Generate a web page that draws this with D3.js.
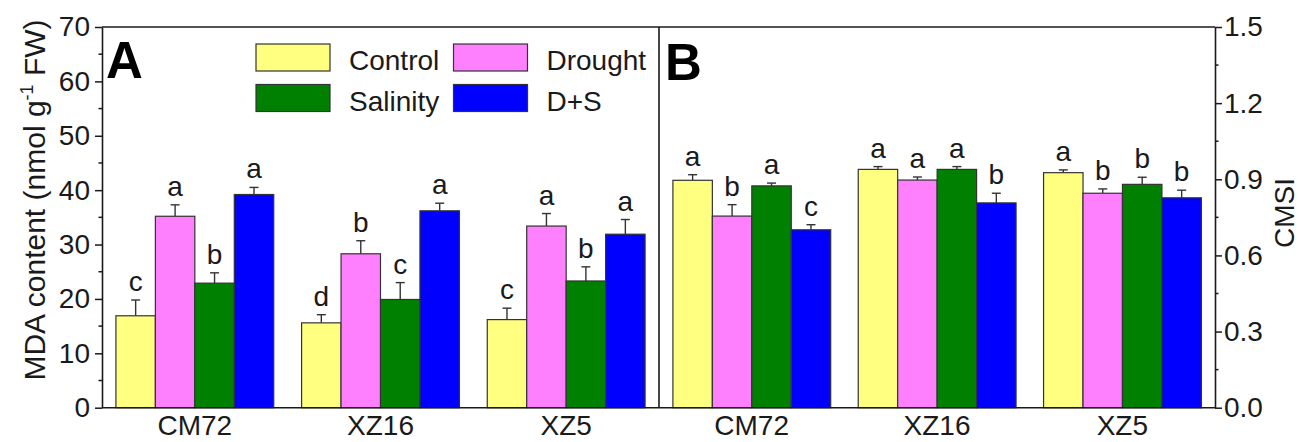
<!DOCTYPE html>
<html>
<head>
<meta charset="utf-8">
<script src="https://cdn.jsdelivr.net/npm/d3@7"></script>
<style>
  body { margin: 0; background: #fff; }
  svg { display: block; font-family: "Liberation Sans", Arial, sans-serif; }
</style>
</head>
<body>
<div id="chart"></div>
<script>
const groups = ["CM72", "XZ16", "XZ5"]
const treatments = ["Control", "Drought", "Salinity", "D+S"]
const colors = ["#ffff80", "#ff80ff", "#008000", "#0000ff"]

// panel A: MDA content, one array per group in treatment order
const mda = [[16.9, 35.2, 22.9, 39.2], [15.6, 28.3, 19.9, 36.2], [16.2, 33.4, 23.3, 31.9]]
const mdaErr = [[2.9, 2.1, 1.9, 1.3], [1.5, 2.4, 3.1, 1.4], [2.1, 2.3, 2.6, 2.7]]
const mdaLetters = [["c", "a", "b", "a"], ["d", "b", "c", "a"], ["c", "a", "b", "a"]]

// panel B: CMSI
const cmsi = [[0.896, 0.755, 0.874, 0.701], [0.939, 0.897, 0.939, 0.807], [0.926, 0.845, 0.880, 0.827]]
const cmsiErr = [[0.022, 0.045, 0.011, 0.020], [0.011, 0.012, 0.011, 0.038], [0.011, 0.017, 0.028, 0.030]]
const cmsiLetters = [["a", "b", "a", "c"], ["a", "a", "a", "b"], ["a", "b", "b", "b"]]

const mdaTicks = [0, 10, 20, 30, 40, 50, 60, 70]
const cmsiTicks = [0, 0.3, 0.6, 0.9, 1.2, 1.5]

const width = 1302, height = 442
const pLeft = 102, pMid = 659, pRight = 1215, pTop = 27, pBottom = 407.7
const ink = "#1a1a1a", barStroke = "#333"

let svg = d3.select("#chart").append("svg")
    .attr("width", width)
    .attr("height", height)

let yA = d3.scaleLinear().domain([0, 70]).range([pBottom, pTop])
let yB = d3.scaleLinear().domain([0, 1.5]).range([pBottom, pTop])

function band(x0, x1) {
    return d3.scaleBand().domain(groups).range([x0, x1]).paddingInner(0.15).paddingOuter(0.075)
}
let xA = band(pLeft, pMid)
let xB = band(pMid, pRight)
let inner = d3.scaleBand().domain(treatments).range([0, xA.bandwidth()])

function drawBars(x, y, values, errs, letters) {
    let g = svg.append("g")
    groups.forEach(function(grp, gi) {
        let cell = g.append("g").attr("transform", `translate(${x(grp)},0)`)
        let rows = treatments.map(function(t, ti) {
            return {t: t, v: values[gi][ti], e: errs[gi][ti], l: letters[gi][ti], c: colors[ti]}
        })
        // error bars first so the bar outline sits on top of the stem base
        rows.forEach(function(d) {
            let cx = inner(d.t) + inner.bandwidth() / 2
            cell.append("line")
                .attr("x1", cx).attr("x2", cx)
                .attr("y1", y(d.v)).attr("y2", y(d.v + d.e))
                .attr("stroke", barStroke).attr("stroke-width", 1.4)
            cell.append("line")
                .attr("x1", cx - 4.5).attr("x2", cx + 4.5)
                .attr("y1", y(d.v + d.e)).attr("y2", y(d.v + d.e))
                .attr("stroke", barStroke).attr("stroke-width", 1.4)
            cell.append("text")
                .attr("x", cx)
                .attr("y", y(d.v + d.e) - 9)
                .attr("text-anchor", "middle")
                .style("font-size", "28px")
                .attr("fill", ink)
                .text(d.l)
        })
        cell.selectAll("rect")
            .data(rows)
            .enter()
            .append("rect")
            .attr("x", function(d) { return inner(d.t) })
            .attr("y", function(d) { return y(d.v) })
            .attr("width", inner.bandwidth())
            .attr("height", function(d) { return pBottom - y(d.v) })
            .attr("fill", function(d) { return d.c })
            .attr("stroke", barStroke)
            .attr("stroke-width", 1.2)
    })
    // group labels under the axis
    g.selectAll(".grp")
        .data(groups)
        .enter()
        .append("text")
        .attr("x", function(d) { return x(d) + x.bandwidth() / 2 })
        .attr("y", 435)
        .attr("text-anchor", "middle")
        .style("font-size", "28px")
        .attr("fill", ink)
        .text(function(d) { return d })
}

drawBars(xA, yA, mda, mdaErr, mdaLetters)
drawBars(xB, yB, cmsi, cmsiErr, cmsiLetters)

// left axis
let axL = svg.append("g")
    .attr("transform", `translate(${pLeft},0)`)
    .call(d3.axisLeft(yA).tickValues(mdaTicks).tickSize(7).tickPadding(5).tickSizeOuter(0))
axL.append("g").selectAll("line")
    .data(d3.range(5, 70, 10))
    .enter().append("line")
    .attr("x1", -3.5).attr("x2", 0)
    .attr("y1", function(d) { return yA(d) }).attr("y2", function(d) { return yA(d) })

// right axis
let axR = svg.append("g")
    .attr("transform", `translate(${pRight},0)`)
    .call(d3.axisRight(yB).tickValues(cmsiTicks).tickFormat(d3.format(".1f")).tickSize(7).tickPadding(2).tickSizeOuter(0))
axR.append("g").selectAll("line")
    .data(d3.range(0.15, 1.5, 0.3))
    .enter().append("line")
    .attr("x1", 0).attr("x2", 3.5)
    .attr("y1", function(d) { return yB(d) }).attr("y2", function(d) { return yB(d) })

svg.selectAll(".tick text").style("font-size", "28px").attr("fill", ink)
svg.selectAll(".tick line").attr("stroke", ink).attr("stroke-width", 1.5)
svg.selectAll(".domain").attr("stroke", ink).attr("stroke-width", 1.6)
axL.selectAll("g > line").attr("stroke", ink).attr("stroke-width", 1.5)
axR.selectAll("g > line").attr("stroke", ink).attr("stroke-width", 1.5)

// frame: top, bottom, divider
svg.append("line").attr("x1", pLeft).attr("x2", pRight).attr("y1", pTop).attr("y2", pTop)
    .attr("stroke", ink).attr("stroke-width", 1.6)
svg.append("line").attr("x1", pLeft).attr("x2", pRight).attr("y1", pBottom).attr("y2", pBottom)
    .attr("stroke", ink).attr("stroke-width", 1.6)
svg.append("line").attr("x1", pMid).attr("x2", pMid).attr("y1", pTop).attr("y2", pBottom)
    .attr("stroke", ink).attr("stroke-width", 1.6)

// axis titles
let titleL = svg.append("text")
    .attr("transform", "translate(45,200) rotate(-90)")
    .attr("text-anchor", "middle")
    .style("font-size", "30px")
    .attr("fill", ink)
titleL.append("tspan").text("MDA content (nmol g")
titleL.append("tspan").attr("dy", -12).style("font-size", "18px").text("-1")
titleL.append("tspan").attr("dy", 12).text(" FW)")

svg.append("text")
    .attr("transform", "translate(1294,213) rotate(-90)")
    .attr("text-anchor", "middle")
    .style("font-size", "28px")
    .attr("fill", ink)
    .text("CMSI")

// panel letters
svg.append("text").attr("x", 106).attr("y", 78)
    .style("font-size", "51px").style("font-weight", "bold").attr("fill", "#000").text("A")
svg.append("text").attr("x", 665).attr("y", 80)
    .style("font-size", "51px").style("font-weight", "bold").attr("fill", "#000").text("B")

// legend, two columns by two rows
let legend = svg.append("g")
treatments.forEach(function(t, i) {
    let col = i % 2, row = Math.floor(i / 2)
    let lx = 256 + col * 197.5, ly = 44 + row * 40.5
    legend.append("rect")
        .attr("x", lx).attr("y", ly)
        .attr("width", 74).attr("height", 27)
        .attr("fill", colors[i])
        .attr("stroke", barStroke).attr("stroke-width", 1.2)
    legend.append("text")
        .attr("x", lx + 93).attr("y", ly + 26)
        .style("font-size", "28px")
        .attr("fill", ink)
        .text(t)
})
</script>
</body>
</html>
